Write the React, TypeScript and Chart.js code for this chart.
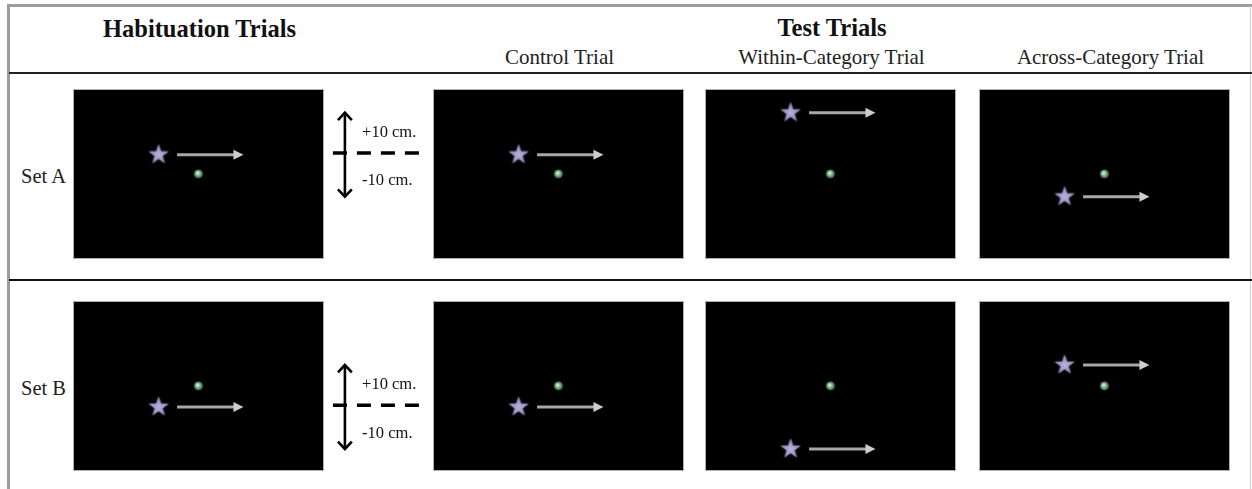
import React, { useEffect, useRef } from 'react';
import { Chart, registerables } from 'chart.js';

Chart.register(...registerables);

// ---------------- data ----------------
const groupTitles = ['Habituation Trials', 'Test Trials'];
const trialTitles = ['Control Trial', 'Within-Category Trial', 'Across-Category Trial'];
const setLabels = ['Set A', 'Set B'];
// vertical position (cm) of the star's motion path relative to the dot, per column
// columns: Habituation, Control, Within-Category, Across-Category
const setAPathY = [4.6, 4.6, 14.6, -5.4];
const setBPathY = [-5, -5, -15, 5];
// horizontal positions (cm) relative to the dot
const starX = [-9.5];
const arrowX = [-5.1, 10.7];
const dotXY = [0, 0];
// test displacement shown between habituation and test panels (cm)
const offsetCm = [10, -10];
const offsetLabels = ['+10 cm.', '-10 cm.'];

// ---------------- layout ----------------
const PX_PER_CM = 4.2;
const PW = 249;
const PH = 168;
const colLefts = [74, 434, 706, 980];
const rowTops = [90, 302];
const IND_LEFT = 326;
const IND_W = 106;
const SERIF = '"Liberation Serif", "Times New Roman", Times, serif';

const xHalf = PW / 2 / PX_PER_CM;
const yHalf = PH / 2 / PX_PER_CM;

function makeStar(): HTMLCanvasElement {
  const c = document.createElement('canvas');
  c.width = 26;
  c.height = 26;
  const ctx = c.getContext('2d')!;
  const cx = 13, cy = 13, R = 10.5, r = 4.1;
  ctx.shadowColor = 'rgba(170,160,220,0.7)';
  ctx.shadowBlur = 2;
  ctx.beginPath();
  for (let i = 0; i < 10; i++) {
    const rad = i % 2 === 0 ? R : r;
    const a = -Math.PI / 2 + (i * Math.PI) / 5;
    const px = cx + rad * Math.cos(a);
    const py = cy + rad * Math.sin(a);
    if (i === 0) ctx.moveTo(px, py);
    else ctx.lineTo(px, py);
  }
  ctx.closePath();
  const g = ctx.createRadialGradient(cx, cy, 0, cx, cy, R);
  g.addColorStop(0, '#b9b3dc');
  g.addColorStop(1, '#857db3');
  ctx.fillStyle = g;
  ctx.fill();
  return c;
}

function makeDot(): HTMLCanvasElement {
  const c = document.createElement('canvas');
  c.width = 12;
  c.height = 12;
  const ctx = c.getContext('2d')!;
  const g = ctx.createRadialGradient(5, 5, 0.3, 6, 6, 5);
  g.addColorStop(0, '#e0f5e4');
  g.addColorStop(0.35, '#8fc49d');
  g.addColorStop(0.8, '#3f6e4e');
  g.addColorStop(1, 'rgba(40,80,55,0)');
  ctx.fillStyle = g;
  ctx.beginPath();
  ctx.arc(6, 6, 5, 0, Math.PI * 2);
  ctx.fill();
  return c;
}

const motionArrowPlugin = {
  id: 'motionArrow',
  afterDatasetsDraw(chart: any) {
    const ctx = chart.ctx;
    chart.data.datasets.forEach((ds: any, i: number) => {
      if (!ds.motionArrow) return;
      const pts = chart.getDatasetMeta(i).data;
      const a = pts[0];
      const b = pts[pts.length - 1];
      const head = 10;
      const hw = 5;
      ctx.save();
      ctx.strokeStyle = '#a8a8a8';
      ctx.lineWidth = 3;
      ctx.lineCap = 'butt';
      ctx.beginPath();
      ctx.moveTo(a.x, a.y);
      ctx.lineTo(b.x - head + 1, b.y);
      ctx.stroke();
      ctx.fillStyle = '#cdcdcd';
      ctx.beginPath();
      ctx.moveTo(b.x, b.y);
      ctx.lineTo(b.x - head, b.y - hw);
      ctx.lineTo(b.x - head, b.y + hw);
      ctx.closePath();
      ctx.fill();
      ctx.restore();
    });
  },
};

function Panel({ left, top, pathY }: { left: number; top: number; pathY: number }) {
  const ref = useRef<HTMLCanvasElement>(null);
  useEffect(() => {
    const chart = new Chart(ref.current!, {
      type: 'scatter',
      data: {
        datasets: [
          {
            data: arrowX.map((x) => ({ x, y: pathY })),
            pointRadius: 0,
            showLine: false,
            motionArrow: true,
          } as any,
          {
            data: starX.map((x) => ({ x, y: pathY })),
            pointStyle: makeStar() as any,
            pointRadius: 10,
          },
          {
            data: [{ x: dotXY[0], y: dotXY[1] }],
            pointStyle: makeDot() as any,
            pointRadius: 5,
          },
        ],
      },
      options: {
        responsive: false,
        animation: false,
        events: [],
        layout: { padding: 0, autoPadding: false },
        scales: {
          x: { type: 'linear', min: -xHalf, max: xHalf, display: false },
          y: { type: 'linear', min: -yHalf, max: yHalf, display: false },
        },
        plugins: { legend: { display: false }, tooltip: { enabled: false } },
      },
      plugins: [motionArrowPlugin],
    });
    return () => chart.destroy();
  }, [pathY]);
  return (
    <canvas
      ref={ref}
      width={PW}
      height={PH}
      style={{
        position: 'absolute',
        left,
        top,
        width: PW,
        height: PH,
        background: '#000',
        boxShadow: '0 0 0 1px #b0b0b0',
      }}
    />
  );
}

function Indicator({ top, pathY }: { top: number; pathY: number }) {
  const ref = useRef<HTMLCanvasElement>(null);
  useEffect(() => {
    const vx = 4.5;
    const cw = 1.65;
    const ch = 1.75;
    const up = pathY + offsetCm[0];
    const down = pathY + offsetCm[1];
    const line = {
      showLine: true,
      borderColor: '#000',
      backgroundColor: '#000',
      borderWidth: 2.6,
      pointRadius: 0,
      borderJoinStyle: 'miter' as const,
      borderCapStyle: 'butt' as const,
      fill: false,
    };
    const labelPlugin = {
      id: 'offsetLabels',
      afterDatasetsDraw(chart: any) {
        const ctx = chart.ctx;
        const xs = chart.scales.x;
        const ys = chart.scales.y;
        ctx.save();
        ctx.fillStyle = '#111';
        ctx.font = `16.5px ${SERIF}`;
        ctx.textBaseline = 'middle';
        ctx.textAlign = 'left';
        ctx.fillText(offsetLabels[0], xs.getPixelForValue(8.6), ys.getPixelForValue(pathY + 5.2));
        ctx.fillText(offsetLabels[1], xs.getPixelForValue(8.6), ys.getPixelForValue(pathY - 6.3));
        ctx.restore();
      },
    };
    const chart = new Chart(ref.current!, {
      type: 'scatter',
      data: {
        datasets: [
          { ...line, data: [{ x: vx, y: down }, { x: vx, y: up }] },
          {
            ...line,
            data: [
              { x: vx - cw, y: up - ch },
              { x: vx, y: up },
              { x: vx + cw, y: up - ch },
            ],
          },
          {
            ...line,
            data: [
              { x: vx - cw, y: down + ch },
              { x: vx, y: down },
              { x: vx + cw, y: down + ch },
            ],
          },
          {
            ...line,
            borderWidth: 3.4,
            borderDash: [14, 10],
            data: [
              { x: 1.65, y: pathY + 0.4 },
              { x: 22.4, y: pathY + 0.4 },
            ],
          },
        ],
      },
      options: {
        responsive: false,
        animation: false,
        events: [],
        layout: { padding: 0, autoPadding: false },
        scales: {
          x: { type: 'linear', min: 0, max: IND_W / PX_PER_CM, display: false },
          y: { type: 'linear', min: -yHalf, max: yHalf, display: false },
        },
        plugins: { legend: { display: false }, tooltip: { enabled: false } },
      },
      plugins: [labelPlugin],
    });
    return () => chart.destroy();
  }, [pathY]);
  return (
    <canvas
      ref={ref}
      width={IND_W}
      height={PH}
      style={{ position: 'absolute', left: IND_LEFT, top, width: IND_W, height: PH }}
    />
  );
}

function Text({
  text,
  cx,
  left,
  baseline,
  size,
  bold,
}: {
  text: string;
  cx?: number;
  left?: number;
  baseline: number;
  size: number;
  bold?: boolean;
}) {
  const w = 400;
  const style: React.CSSProperties = {
    position: 'absolute',
    top: baseline - 0.8375 * size,
    fontFamily: SERIF,
    fontSize: size,
    lineHeight: `${size}px`,
    fontWeight: bold ? 'bold' : 'normal',
    color: bold ? '#111' : '#222',
    whiteSpace: 'nowrap',
  };
  if (cx !== undefined) {
    style.left = cx - w / 2;
    style.width = w;
    style.textAlign = 'center';
  } else {
    style.left = left;
  }
  return <div style={style}>{text}</div>;
}

export default function App() {
  const rows = [setAPathY, setBPathY];
  const subCenters = [559.5, 831.5, 1110.5];
  return (
    <div
      style={{
        position: 'absolute',
        left: 0,
        top: 0,
        width: 1252,
        height: 489,
        background: '#fff',
        overflow: 'hidden',
      }}
    >
      {/* frame */}
      <div style={{ position: 'absolute', left: 7, top: 4, width: 1245, height: 3, background: '#9c9c9c' }} />
      <div style={{ position: 'absolute', left: 7, top: 4, width: 3, height: 485, background: '#9c9c9c' }} />
      <div style={{ position: 'absolute', left: 1250, top: 6, width: 1, height: 483, background: '#cfcfcf' }} />
      <div style={{ position: 'absolute', left: 9, top: 72, width: 1243, height: 2, background: '#222' }} />
      <div style={{ position: 'absolute', left: 9, top: 279, width: 1243, height: 2, background: '#111' }} />

      <Text text={groupTitles[0]} cx={199.5} baseline={38} size={24.5} bold />
      <Text text={groupTitles[1]} cx={832} baseline={37} size={24.5} bold />
      {trialTitles.map((t, i) => (
        <Text key={t} text={t} cx={subCenters[i]} baseline={65} size={21} />
      ))}

      {rows.map((pathY, r) => (
        <React.Fragment key={setLabels[r]}>
          <Text text={setLabels[r]} left={21} baseline={rowTops[r] + 93} size={20.5} />
          {pathY.map((p, c) => (
            <Panel key={c} left={colLefts[c]} top={rowTops[r]} pathY={p} />
          ))}
          <Indicator top={rowTops[r]} pathY={pathY[0]} />
        </React.Fragment>
      ))}
    </div>
  );
}
